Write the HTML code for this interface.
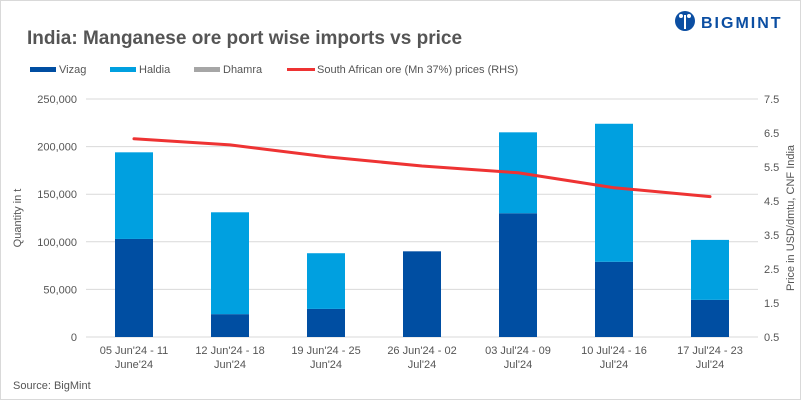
<!DOCTYPE html>
<html><head><meta charset="utf-8"><style>
body{margin:0;background:#fff}
#wrap{position:relative;width:799px;height:398px;border:1px solid #d9d9d9;font-family:"Liberation Sans",sans-serif;overflow:hidden}
svg text{font-family:"Liberation Sans",sans-serif}
</style></head><body>
<div id="wrap">
<svg id="chart" width="799" height="398">
<text x="26" y="43" font-size="19" font-weight="bold" fill="#555">India: Manganese ore port wise imports vs price</text>
<g>
<circle cx="684" cy="20" r="10" fill="#0b4ea2"/>
<circle cx="680" cy="15" r="2" fill="#fff"/><circle cx="688" cy="15" r="2" fill="#fff"/>
<rect x="683" y="14" width="2" height="14" fill="#fff"/>
<text x="700" y="27" font-size="16" font-weight="bold" fill="#0b4ea2" letter-spacing="2">BIGMINT</text>
</g>
<g>
<g><rect x="29" y="66" width="26" height="5" fill="#004ea2"/><text x="58" y="72" font-size="11" fill="#555">Vizag</text></g>
<g><rect x="109" y="66" width="26" height="5" fill="#00a0e0"/><text x="138" y="72" font-size="11" fill="#555">Haldia</text></g>
<g><rect x="193" y="66" width="26" height="5" fill="#a6a6a6"/><text x="222" y="72" font-size="11" fill="#555">Dhamra</text></g>
<g><rect x="286" y="67" width="28" height="3" fill="#ee3333"/><text x="316" y="72" font-size="11" fill="#555">South African ore (Mn 37%) prices (RHS)</text></g>
</g>
<text transform="translate(20,217) rotate(-90)" text-anchor="middle" font-size="11" fill="#555">Quantity in t</text>
<text transform="translate(793,217) rotate(-90)" text-anchor="middle" font-size="11" fill="#555">Price in USD/dmtu, CNF India</text>
<text x="12" y="388" font-size="11" fill="#555">Source: BigMint</text>
<g id="plot"></g>
</svg>
</div>
<script>
const categories=[["05 Jun'24 - 11","June'24"],["12 Jun'24 - 18","Jun'24"],["19 Jun'24 - 25","Jun'24"],["26 Jun'24 - 02","Jul'24"],["03 Jul'24 - 09","Jul'24"],["10 Jul'24 - 16","Jul'24"],["17 Jul'24 - 23","Jul'24"]];
const vizag=[103000,24000,29500,90000,130000,79000,39000];
const haldia=[91000,107000,58500,0,85000,145000,63000];
const dhamra=[0,0,0,0,0,0,0];
const price=[6.33,6.15,5.8,5.53,5.33,4.89,4.63];
const leftTicks=[0,50000,100000,150000,200000,250000];
const rightTicks=[0.5,1.5,2.5,3.5,4.5,5.5,6.5,7.5];
const NS="http://www.w3.org/2000/svg";
const g=document.getElementById('plot');
const L=85,R=757,T=98,B=336,band=(R-L)/categories.length,bw=38;
const y=v=>B-(v/250000)*(B-T);
const y2=v=>B-((v-0.5)/7)*(B-T);
const xc=i=>L+band*(i+0.5);
function el(t,a){const e=document.createElementNS(NS,t);for(const k in a)e.setAttribute(k,a[k]);g.appendChild(e);return e;}
leftTicks.forEach(t=>{
 const l=el('line',{x1:L,x2:R,y1:y(t),y2:y(t),stroke:'#d9d9d9','stroke-width':1});
 
 
 const tx=el('text',{x:76,y:y(t)+4,'text-anchor':'end','font-size':11,fill:'#555'});
 tx.textContent=t.toLocaleString('en-US');
 
 
});
rightTicks.forEach(t=>{
 const tx=el('text',{x:763,y:y2(t)+4,'font-size':11,fill:'#555'});
 tx.textContent=t.toFixed(1);
 
 
});
categories.forEach((c,i)=>{
 const x=xc(i)-bw/2;
 const b1=el('rect',{x:x,y:y(vizag[i]),width:bw,height:B-y(vizag[i]),fill:'#004ea2'});
 
 
 const b2=el('rect',{x:x,y:y(vizag[i]+haldia[i]),width:bw,height:y(vizag[i])-y(vizag[i]+haldia[i]),fill:'#00a0e0'});
 
 
 const s=vizag[i]+haldia[i];
 const b3=el('rect',{x:x,y:y(s+dhamra[i]),width:bw,height:y(s)-y(s+dhamra[i]),fill:'#a6a6a6'});
 
 
 c.forEach((ln,j)=>{
  const tx=el('text',{x:xc(i),y:353+j*14,'text-anchor':'middle','font-size':11,fill:'#555'});
  tx.textContent=ln;
  
  
 });
});
const pl=el('polyline',{points:price.map((p,i)=>xc(i)+','+y2(p)).join(' '),fill:'none',stroke:'#ee3333','stroke-width':3,'stroke-linejoin':'round','stroke-linecap':'round'});


</script>
</body></html>
